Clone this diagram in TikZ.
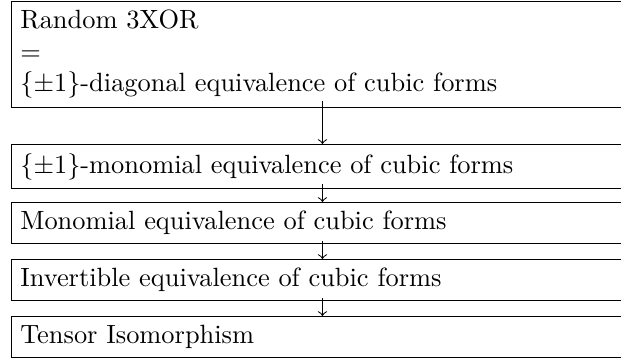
\documentclass[tikz,border=0pt]{standalone}
\begin{document}
\begin{tikzpicture}[x=0.3788pt,y=-0.3788pt,
  box/.style={draw, line width=0.4pt, text width=228.9pt, align=left, inner sep=3.333pt, anchor=north west},
  conn/.style={->, line width=0.4pt}]
\useasboundingbox (0,0) rectangle (621,362);
\node[box] (a) at (11,0.6) {Random 3XOR\\=\\$\{\pm1\}$-diagonal equivalence of cubic forms};
\node[box] (b) at (11,144) {$\{\pm1\}$-monomial equivalence of cubic forms};
\node[box] (c) at (11,202) {Monomial equivalence of cubic forms};
\node[box] (d) at (11,259) {Invertible equivalence of cubic forms};
\node[box] (e) at (11,316) {Tensor Isomorphism};
\draw[conn] ([yshift=2.65pt]a.south) -- (b.north);
\draw[conn] ([yshift=1.9pt]b.south) -- (c.north);
\draw[conn] ([yshift=1.3pt]c.south) -- (d.north);
\draw[conn] ([yshift=1.2pt]d.south) -- (e.north);
\end{tikzpicture}
\end{document}
